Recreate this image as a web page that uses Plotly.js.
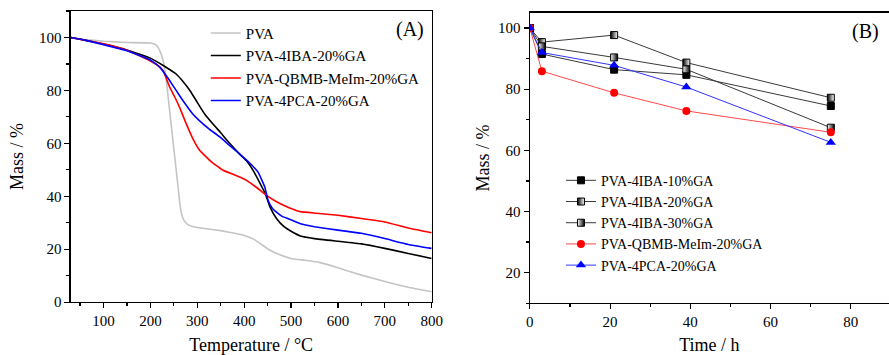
<!DOCTYPE html>
<html>
<head>
<meta charset="utf-8">
<script src="https://cdn.plot.ly/plotly-3.0.1.min.js"></script>
<style>html,body{margin:0;padding:0;background:#fff;}#chart{width:889px;height:355px;}</style>
</head>
<body>
<div id="chart"></div>
<script>
// ---- Panel A: TGA ----
var pvaT = [30, 60, 100, 150, 200, 212, 220, 227, 234, 240, 245, 250, 255, 259, 263, 267, 272, 280, 290, 300, 320, 350, 380, 400, 420, 435, 455, 475, 500, 530, 560, 600, 650, 700, 750, 800];
var pvaM = [100, 99.2, 98.6, 98.1, 97.9, 97.2, 95, 91.3, 84, 74, 66, 58, 50, 43.5, 37, 33, 30.8, 29.3, 28.6, 28.2, 27.7, 27, 26, 25.2, 23.8, 22, 19.6, 18, 16.5, 15.8, 15, 13, 10.2, 7.8, 5.6, 3.9];

var ibaT = [30, 60, 100, 150, 200, 220, 240, 255, 270, 285, 300, 315, 334, 350, 369, 390, 405, 420, 435, 445, 455, 469, 485, 500, 520, 550, 600, 650, 700, 750, 800];
var ibaM = [100, 99, 97.5, 95.3, 92.2, 90.2, 88, 86.2, 83.3, 79.8, 75.5, 71.3, 67.2, 64, 60, 56, 53.4, 49.5, 44.5, 41, 36, 31.6, 28.5, 26.8, 25, 24, 23, 22, 20.3, 18.4, 16.5];

var qbmbT = [30, 60, 100, 150, 198, 215, 227, 241, 252, 262, 275, 290, 305, 330, 355, 380, 405, 425, 447, 470, 497, 520, 554, 600, 650, 700, 750, 800];
var qbmbM = [100, 99, 97.6, 95.2, 91.3, 89.5, 87.5, 81.3, 77.5, 73.7, 68, 62, 57.4, 53, 49.8, 48, 46, 43.5, 40.4, 37.8, 35.6, 34.2, 33.6, 32.8, 31.6, 30.3, 28, 26.2];

var pcaT = [30, 60, 100, 150, 200, 220, 240, 255, 270, 290, 305, 325, 348, 370, 398, 415, 430, 444, 451, 460, 469, 480, 494, 520, 550, 600, 650, 700, 750, 800];
var pcaM = [100, 99, 97.3, 95, 91.5, 88.8, 84, 80, 76, 71.2, 68.5, 65.5, 62.4, 59, 54.8, 52, 49, 43.5, 38.5, 35.5, 34, 32.5, 31.5, 29.6, 28.5, 27.2, 26, 24, 21.8, 20.3];

var namesA = ["PVA", "PVA-4IBA-20%GA", "PVA-QBMB-MeIm-20%GA", "PVA-4PCA-20%GA"];

// ---- Panel B: mass vs time ----
var timeH = [0, 3, 21, 39, 75];
var m10 = [100, 91.5, 86.4, 84.7, 74.5];
var m20 = [100, 95.4, 97.7, 88.7, 77.2];
var m30 = [100, 94, 90.4, 86.5, 67.4];
var mQBMB = [100, 85.9, 78.8, 72.9, 65.9];
var mPCA = [100, 92, 87.8, 80.7, 62.6];
var namesB = ["PVA-4IBA-10%GA", "PVA-4IBA-20%GA", "PVA-4IBA-30%GA", "PVA-QBMB-MeIm-20%GA", "PVA-4PCA-20%GA"];

var FONT = "Liberation Serif, Times New Roman, serif";

function lineA(x, y, name, color) {
  return {x: x, y: y, name: name, type: "scatter", mode: "lines",
    line: {color: color, width: 1.6, shape: "spline", smoothing: 0.3},
    xaxis: "x", yaxis: "y", legend: "legend"};
}
var traces = [
  lineA(pvaT, pvaM, namesA[0], "#c4c4c4"),
  lineA(ibaT, ibaM, namesA[1], "#000000"),
  lineA(qbmbT, qbmbM, namesA[2], "#ff0000"),
  lineA(pcaT, pcaM, namesA[3], "#0000ff")
];

function lineB(y, name, lcolor, marker) {
  return {x: timeH, y: y, name: name, type: "scatter", mode: "lines+markers",
    line: {color: lcolor, width: 1}, marker: marker,
    xaxis: "x2", yaxis: "y2", legend: "legend2"};
}
traces.push(lineB(m10, namesB[0], "#3a3a3a", {symbol: "square", size: 7, color: "#000", line: {color: "#000", width: 1}}));
traces.push(lineB(m20, namesB[1], "#3a3a3a", {symbol: "square", size: 7, color: "#000", gradient: {type: "horizontal", color: "#fff"}, line: {color: "#000", width: 1}}));
traces.push(lineB(m30, namesB[2], "#3a3a3a", {symbol: "square", size: 7, color: "#fff", gradient: {type: "horizontal", color: "#000"}, line: {color: "#000", width: 1}}));
traces.push(lineB(mQBMB, namesB[3], "#ff4a4a", {symbol: "circle", size: 8, color: "#ff0000", line: {width: 0}}));
traces.push(lineB(mPCA, namesB[4], "#3333ff", {symbol: "triangle-up", size: 9, color: "#0000ff", line: {width: 0}}));

function axis(extra) {
  var a = {showline: true, linecolor: "#000", linewidth: 1.3, ticks: "outside", ticklen: 5,
    tickwidth: 1.2, tickcolor: "#000", showgrid: false, zeroline: false,
    tickfont: {family: FONT, size: 15, color: "#000"}};
  for (var k in extra) a[k] = extra[k];
  return a;
}

var layout = {
  width: 889, height: 355,
  margin: {l: 0, r: 0, t: 0, b: 0},
  paper_bgcolor: "#fff", plot_bgcolor: "#fff",
  font: {family: FONT, color: "#000"},
  xaxis: axis({domain: [0.0795, 0.4856], range: [30, 800], dtick: 100, tick0: 0, mirror: true, anchor: "y",
    minor: {ticks: "outside", ticklen: 3, dtick: 50, tick0: 0, tickcolor: "#000"},
    title: {text: "Temperature / °C", font: {family: FONT, size: 18, color: "#000"}, standoff: 11}}),
  yaxis: axis({domain: [0.149, 0.969], range: [0, 110], dtick: 20, tick0: 0, mirror: true, anchor: "x",
    minor: {ticks: "outside", ticklen: 3, dtick: 10, tick0: 0, tickcolor: "#000"},
    title: {text: "Mass / %", font: {family: FONT, size: 18, color: "#000"}, standoff: 10}}),
  xaxis2: axis({domain: [0.596, 1.0], range: [0, 89.5], dtick: 20, tick0: 0, mirror: true, anchor: "y2",
    minor: {ticks: "outside", ticklen: 3, dtick: 10, tick0: 0, tickcolor: "#000"},
    title: {text: "Time / h", font: {family: FONT, size: 18, color: "#000"}, standoff: 11}}),
  yaxis2: axis({domain: [0.146, 0.964], range: [10, 105], dtick: 20, tick0: 0, mirror: false, anchor: "x2",
    minor: {ticks: "outside", ticklen: 3, dtick: 10, tick0: 0, tickcolor: "#000"},
    title: {text: "Mass / %", font: {family: FONT, size: 18, color: "#000"}, standoff: 3}}),
  legend: {x: 0.2315, y: 0.953, xanchor: "left", yanchor: "top", bgcolor: "rgba(0,0,0,0)",
    font: {family: FONT, size: 15, color: "#000"}, tracegroupgap: 0},
  legend2: {x: 0.631, y: 0.536, xanchor: "left", yanchor: "top", bgcolor: "rgba(0,0,0,0)",
    font: {family: FONT, size: 14, color: "#000"}, tracegroupgap: 0},
  annotations: [
    {text: "(A)", x: 0.4612, y: 0.918, xref: "paper", yref: "paper", xanchor: "center", yanchor: "middle", showarrow: false,
      font: {family: FONT, size: 20, color: "#000"}},
    {text: "(B)", x: 0.974, y: 0.91, xref: "paper", yref: "paper", xanchor: "center", yanchor: "middle", showarrow: false,
      font: {family: FONT, size: 20, color: "#000"}}
  ],
  showlegend: true
};

Plotly.newPlot("chart", traces, layout, {staticPlot: true, displayModeBar: false});
</script>
</body>
</html>
